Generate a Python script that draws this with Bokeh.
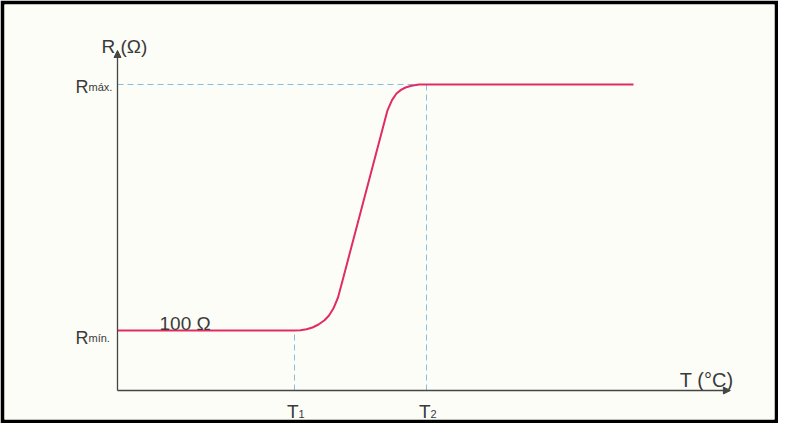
from bokeh.plotting import figure
from bokeh.models import Arrow, NormalHead
from bokeh.core.properties import value
from bokeh.embed import file_html
from bokeh.resources import INLINE

# ---- data (schematic PTC characteristic) ----
T_curve = [0, 59, 61, 63, 65, 67, 69, 70.5, 72, 73.5, 75, 90, 91.5, 93, 94.5, 96, 98, 100.5, 103, 172]
R_curve = [100, 100, 100.5, 102, 105, 110, 117, 125, 137, 155, 183, 467, 484, 495, 501, 505, 508, 510, 510, 510]
T1 = 59
T2 = 103
R_MIN = 100
R_MAX = 510
T_AXIS_END = 204.3
R_AXIS_END = 566.7
x_label = "T (°C)"
y_label = "R (Ω)"
rmin_text = "100 Ω"
t_ticks = ["T", "T"]
t_subs = ["1", "2"]
r_ticks = ["R", "R"]
r_subs = ["máx.", "mín."]

FONT = value("Liberation Sans")
TXT = "#3a3a3a"
AX = "#454545"
DASH = "#86bde0"
CURVE = "#e02c62"

p = figure(width=778, height=423, output_backend="svg", toolbar_location=None,
           x_range=(-37.667, 219), y_range=(-48.33, 643.33),
           x_axis_location=None, y_axis_location=None,
           min_border=4, min_border_left=4, min_border_right=4,
           min_border_top=4, min_border_bottom=4)
p.border_fill_color = "black"
p.background_fill_color = "#fdfdf7"
p.outline_line_color = None
p.grid.visible = False

# dashed guides
p.line(x=[0, T2], y=[R_MAX, R_MAX], line_color=DASH, line_width=1, line_dash="6 4")
p.line(x=[T2, T2], y=[0, R_MAX], line_color=DASH, line_width=1, line_dash="6 4")
p.line(x=[T1, T1], y=[0, R_MIN], line_color=DASH, line_width=1, line_dash="6 4")

# axes with arrows
p.add_layout(Arrow(end=NormalHead(size=7, fill_color=AX, line_color=AX),
                   x_start=0, y_start=0, x_end=T_AXIS_END, y_end=0,
                   line_color=AX, line_width=1.3))
p.add_layout(Arrow(end=NormalHead(size=7, fill_color=AX, line_color=AX),
                   x_start=0, y_start=0, x_end=0, y_end=R_AXIS_END,
                   line_color=AX, line_width=1.3))

# curve
p.line(x=T_curve, y=R_curve, line_color=CURVE, line_width=2)

# axis titles
p.text(x=[0], y=[R_AXIS_END], text=[y_label], text_font=FONT, text_font_size="19px",
       text_color=TXT, text_align="left", text_baseline="alphabetic",
       x_offset=-16, y_offset=-4)
p.text(x=[T_AXIS_END], y=[0], text=[x_label], text_font=FONT, text_font_size="20px",
       text_color=TXT, text_align="right", text_baseline="alphabetic",
       x_offset=3, y_offset=-11)
p.text(x=[0], y=[R_MIN], text=[rmin_text], text_font=FONT, text_font_size="19px",
       text_color=TXT, text_align="left", text_baseline="alphabetic",
       x_offset=42, y_offset=-7)

# T ticks
p.text(x=[T1, T2], y=[0, 0], text=t_ticks, text_font=FONT, text_font_size="19px",
       text_color=TXT, text_align="right", text_baseline="alphabetic",
       x_offset=4, y_offset=21)
p.text(x=[T1, T2], y=[0, 0], text=t_subs, text_font=FONT, text_font_size="11px",
       text_color=TXT, text_align="left", text_baseline="alphabetic",
       x_offset=4, y_offset=23)

# R ticks
p.text(x=[0, 0], y=[R_MAX, R_MIN], text=r_ticks, text_font=FONT, text_font_size="18px",
       text_color=TXT, text_align="right", text_baseline="alphabetic",
       x_offset=-29, y_offset=[3, 7])
p.text(x=[0, 0], y=[R_MAX, R_MIN], text=r_subs, text_font=FONT, text_font_size="11px",
       text_color=TXT, text_align="left", text_baseline="alphabetic",
       x_offset=-29, y_offset=[3, 7])

open("out.html", "w").write(file_html(p, INLINE))
